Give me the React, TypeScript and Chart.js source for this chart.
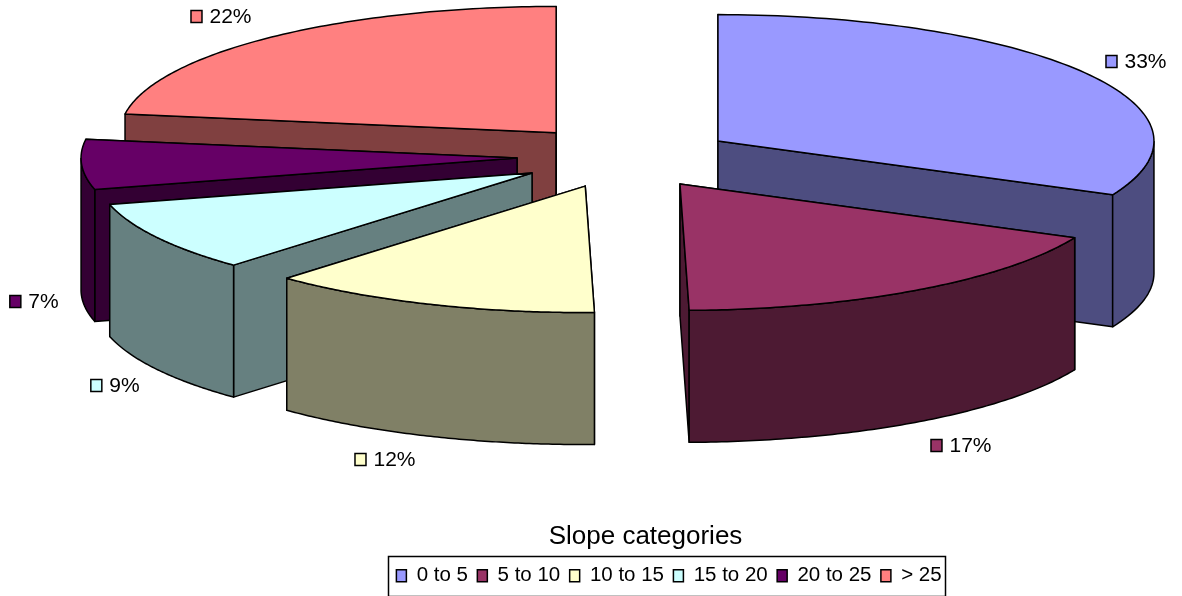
import React, { useEffect, useRef } from "react";
import { Chart, registerables } from "chart.js";

Chart.register(...registerables);

const categories = ["0 to 5", "5 to 10", "10 to 15", "15 to 20", "20 to 25", "> 25"];
const shares = [33, 17, 12, 9, 7, 22];
const topColors = ["#9999FF", "#993366", "#FFFFCC", "#CCFFFF", "#660066", "#FF8080"];
const wallColors = ["#4D4D80", "#4D1A33", "#808066", "#668080", "#330033", "#804040"];
const labelSpots = [[1136, 61], [961, 445], [385, 459], [115, 385], [34, 301], [221, 16]];
const legendTitle = "Slope categories";

const FONT = "'Liberation Sans', Arial, sans-serif";
const CX = 625, CY = 157, RX = 436, TILT = 0.29, DEPTH = 132, EXPLODE = 108;
const DEG = Math.PI / 180;

// The reference's 3-D view is not a pure ellipse: angles drift slightly on the way round.
const warp = (angle: number) => {
  let t = (angle + Math.PI / 2) / DEG;
  t = ((t % 360) + 360) % 360;
  let shift = 0;
  if (t < 223.2) shift = -3.7 * Math.pow(Math.sin((t * 180 * DEG) / 223.2), 2);
  else if (t > 255.6) shift = -4.7 * Math.pow(Math.sin(((t - 255.6) * 180 * DEG) / 104.4), 2);
  return angle + shift * DEG;
};

const project = (ax: number, ay: number, angle: number) => {
  const a = warp(angle);
  return [ax + RX * Math.cos(a), ay + RX * TILT * Math.sin(a)];
};

const pie3d = {
  id: "pie3d",
  beforeDatasetDraw(chart: any) {
    const ctx = chart.ctx;
    const arcs = chart.getDatasetMeta(0).data as any[];
    const slices = arcs.map((arc, i) => {
      const { startAngle, endAngle } = arc.getProps(["startAngle", "endAngle"], true);
      const mid = (startAngle + endAngle) / 2;
      return { i, startAngle, endAngle, mid,
        ax: CX + EXPLODE * Math.cos(mid), ay: CY + EXPLODE * TILT * Math.sin(mid) };
    });
    slices.sort((a, b) => Math.sin(a.mid) - Math.sin(b.mid));
    ctx.save();
    ctx.lineWidth = 1.5;
    ctx.strokeStyle = "#000";
    ctx.lineJoin = "round";
    const poly = (pts: number[][], fill: string) => {
      ctx.beginPath();
      pts.forEach((p, k) => (k ? ctx.lineTo(p[0], p[1]) : ctx.moveTo(p[0], p[1])));
      ctx.closePath();
      ctx.fillStyle = fill;
      ctx.fill();
      ctx.stroke();
    };
    for (const sl of slices) {
      const wall = wallColors[sl.i], top = topColors[sl.i];
      const rim: number[][] = [];
      const angles: number[] = [];
      const n = 90;
      for (let k = 0; k <= n; k++) angles.push(sl.startAngle + ((sl.endAngle - sl.startAngle) * k) / n);
      angles.forEach((a) => rim.push(project(sl.ax, sl.ay, a)));
      const apex = [sl.ax, sl.ay];
      const down = (p: number[]) => [p[0], p[1] + DEPTH];
      const a0 = rim[0], a1 = rim[n];
      const startVisible = Math.sin(sl.startAngle - Math.PI / 2) > -1e-6;
      const endVisible = Math.sin(sl.endAngle + Math.PI / 2) > -1e-6;
      const startQuad = [apex, a0, down(a0), down(apex)];
      const endQuad = [apex, a1, down(a1), down(apex)];
      if (!startVisible) poly(startQuad, wall);
      if (!endVisible) poly(endQuad, wall);
      if (startVisible) poly(startQuad, wall);
      if (endVisible) poly(endQuad, wall);
      const front: number[][] = [];
      angles.forEach((a, k) => { if (Math.sin(warp(a)) >= 0) front.push(rim[k]); });
      if (front.length > 1) poly([...front, ...front.slice().reverse().map(down)], wall);
      poly([apex, ...rim], top);
    }
    ctx.restore();
    return false;
  },
  afterDraw(chart: any) {
    const ctx = chart.ctx;
    const hits = chart.legend.legendHitBoxes as any[];
    const l = Math.min(...hits.map((h) => h.left)) - 8;
    const r = Math.max(...hits.map((h) => h.left + h.width)) + 4;
    const mid = hits[0].top + hits[0].height / 2;
    const t = mid - 20;
    const b = mid + 20;
    ctx.save();
    ctx.strokeStyle = "#000";
    ctx.lineWidth = 1.5;
    ctx.strokeRect(Math.round(l) + 0.5, Math.round(t) + 0.5, Math.round(r - l), Math.round(b - t));
    ctx.font = `26px ${FONT}`;
    ctx.textBaseline = "middle";
    ctx.textAlign = "center";
    ctx.fillStyle = "#000";
    ctx.fillText(legendTitle, 645.5, 537);
    ctx.font = `21px ${FONT}`;
    ctx.textAlign = "left";
    shares.forEach((v, i) => {
      const text = `${v}%`;
      const w = ctx.measureText(text).width + 19;
      const x = labelSpots[i][0] - w / 2, y = labelSpots[i][1];
      ctx.fillStyle = topColors[i];
      ctx.fillRect(x + 0.5, y - 5.5, 11, 12);
      ctx.strokeRect(x + 0.5, y - 5.5, 11, 12);
      ctx.fillStyle = "#000";
      ctx.fillText(text, x + 19, y + 1);
    });
    ctx.restore();
  },
};

export default function App() {
  const ref = useRef<HTMLCanvasElement>(null);
  useEffect(() => {
    document.body.style.margin = "0";
    const chart = new Chart(ref.current!, {
      type: "pie",
      data: {
        labels: categories,
        datasets: [{ data: shares, backgroundColor: topColors, borderColor: "#000", borderWidth: 1.5 }],
      },
      options: {
        responsive: false,
        animation: false,
        radius: RX,
        layout: { padding: { left: 156, bottom: 0 } },
        plugins: {
          tooltip: { enabled: false },
          legend: {
            position: "bottom",
            labels: { boxWidth: 10, boxHeight: 12, color: "#000", font: { size: 20.5, family: FONT }, padding: 9.4 },
          },
        },
      },
      plugins: [pie3d],
    } as any);
    return () => chart.destroy();
  }, []);
  return <canvas ref={ref} width={1182} height={596} style={{ display: "block" }} />;
}
